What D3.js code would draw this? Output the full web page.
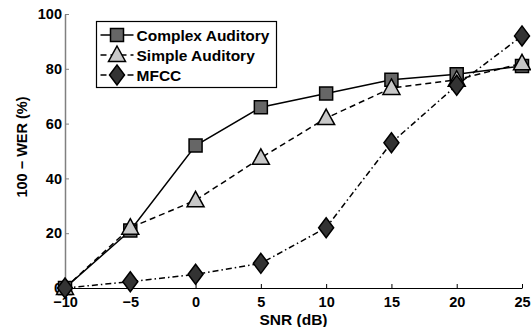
<!DOCTYPE html>
<html>
<head>
<meta charset="utf-8">
<script src="https://cdn.jsdelivr.net/npm/d3@7"></script>
<style>
  body { margin: 0; background: #fff; }
  svg text { font-family: "Liberation Sans", Arial, sans-serif; font-weight: bold; }
</style>
</head>
<body>
<div id="chart"></div>
<script>
// values
const snr = [-10, -5, 0, 5, 10, 15, 20, 25];
const complexAud = [0, 21, 52, 66, 71, 76, 78, 81];
const simpleAud = [0, 22, 32, 47.5, 62, 73, 76, 82];
const mfcc = [0, 2.3, 5, 9, 22, 53, 74, 92];
const seriesNames = ["Complex Auditory", "Simple Auditory", "MFCC"];
const xTicks = [-10, -5, 0, 5, 10, 15, 20, 25];
const yTicks = [0, 20, 40, 60, 80, 100];

const width = 531, height = 327;
const margin = {top: 14, right: 9, bottom: 39, left: 65};
const w = width - margin.left - margin.right;
const h = height - margin.top - margin.bottom;

const svg = d3.select('#chart')
  .append('svg')
    .attr('width', width)
    .attr('height', height);

const g = svg.append('g')
  .attr('transform', `translate(${margin.left},${margin.top})`);

const x = d3.scaleLinear().domain([-10, 25]).range([0, w]);
const y = d3.scaleLinear().domain([0, 100]).range([h, 0]);

// axes
const xAxis = g.append('g')
  .attr('transform', `translate(0,${h})`)
  .call(d3.axisBottom(x).tickValues(xTicks).tickSizeInner(-4).tickSizeOuter(0)
    .tickFormat(d => d < 0 ? '\u2212' + Math.abs(d) : d));
xAxis.select('.domain').attr('stroke', '#000').attr('stroke-width', 1.2);
xAxis.selectAll('.tick line').attr('stroke', '#000');
xAxis.selectAll('.tick text').attr('font-size', 14.5).attr('y', 19).attr('dy', 0);

const yAxis = g.append('g')
  .call(d3.axisLeft(y).tickValues(yTicks).tickSizeInner(-4).tickSizeOuter(0));
yAxis.select('.domain').attr('stroke', '#808080').attr('stroke-width', 1.5);
yAxis.selectAll('.tick line').attr('stroke', '#808080');
yAxis.selectAll('.tick text').attr('font-size', 14.5).attr('x', -3).attr('fill', '#000');

g.append('text')
  .attr('x', w / 2)
  .attr('y', h + 37)
  .attr('text-anchor', 'middle')
  .attr('font-size', 15.5)
  .text('SNR (dB)');

g.append('text')
  .attr('transform', `translate(${-38},${133}) rotate(-90)`)
  .attr('text-anchor', 'middle')
  .attr('font-size', 14.5)
  .text('100 \u2212 WER (%)');

// series styling
const styles = [
  {data: complexAud, dash: null, marker: 'square', fill: '#666666'},
  {data: simpleAud, dash: '6,4', marker: 'triangle', fill: '#c8c8c8'},
  {data: mfcc, dash: '6,3,1.5,3', marker: 'diamond', fill: '#333333'}
];

function markerPath(type) {
  if (type === 'square') return 'M-6.5,-6.5H6.5V6.5H-6.5Z';
  if (type === 'triangle') return 'M0,-9L8.5,6.5H-8.5Z';
  return 'M0,-10L7.5,0L0,10L-7.5,0Z';
}

const line = d3.line().x((d, i) => x(snr[i])).y(d => y(d));

styles.forEach(s => {
  g.append('path')
    .datum(s.data)
    .attr('fill', 'none')
    .attr('stroke', '#000')
    .attr('stroke-width', 1.5)
    .attr('stroke-dasharray', s.dash)
    .attr('d', line);

  g.selectAll(null)
    .data(s.data)
    .enter()
    .append('path')
      .attr('transform', (d, i) => `translate(${x(snr[i])},${y(d)})`)
      .attr('d', markerPath(s.marker))
      .attr('fill', s.fill)
      .attr('stroke', '#000')
      .attr('stroke-width', 1.5);
});

// legend
const legend = svg.append('g').attr('transform', 'translate(96.5,21.5)');
legend.append('rect')
  .attr('width', 180)
  .attr('height', 66)
  .attr('fill', '#fff')
  .attr('stroke', '#000')
  .attr('stroke-width', 1.2);

styles.forEach((s, i) => {
  const row = legend.append('g').attr('transform', `translate(0,${13.5 + i * 20})`);
  row.append('line')
    .attr('x1', 4).attr('x2', 37)
    .attr('stroke', '#000')
    .attr('stroke-width', 1.5)
    .attr('stroke-dasharray', s.dash);
  row.append('path')
    .attr('transform', 'translate(20.5,0)')
    .attr('d', markerPath(s.marker))
    .attr('fill', s.fill)
    .attr('stroke', '#000')
    .attr('stroke-width', 1.5);
  row.append('text')
    .attr('x', 40)
    .attr('dy', '0.36em')
    .attr('font-size', 15.5)
    .text(seriesNames[i]);
});
</script>
</body>
</html>
